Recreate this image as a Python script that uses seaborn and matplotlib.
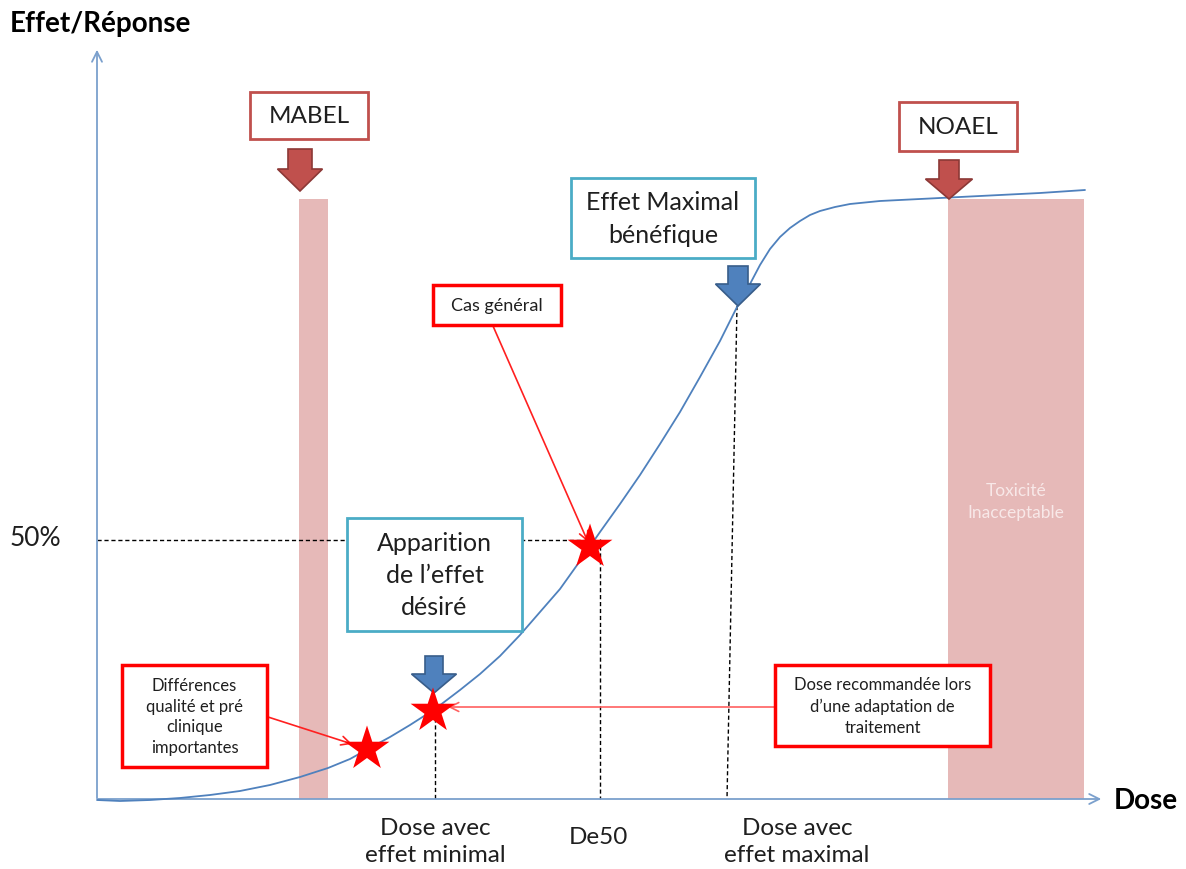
import seaborn as sns
import matplotlib.pyplot as plt
import matplotlib.patches as mpatches

# dose-response curve (pixel units, y grows downward)
curve_x = [97, 120, 150, 180, 210, 240, 270, 300, 328, 350, 368, 390, 410, 435, 460,
           480, 500, 520, 540, 560, 580, 600, 620, 640, 660, 680, 700, 720, 737, 750,
           760, 770, 780, 790, 800, 810, 820, 835, 850, 880, 920, 960, 1000, 1040, 1085]
curve_y = [801, 802, 801, 799, 796, 792, 786, 778, 769, 760, 750, 738, 726, 710, 691,
           675, 657, 636, 613, 590, 562, 533, 505, 476, 445, 413, 378, 342, 308, 285,
           266, 250, 238, 229, 222, 216, 212, 208, 205, 202, 200, 198, 196, 194, 191]

# red stars on the curve
star_x = [367, 433, 590]
star_y = [750, 712, 548]

# shaded zones (MABEL, toxicité)
zone_left = [299, 948]
zone_right = [328, 1084]
zone_top = [200, 200]

# dashed reference lines
ref_x0 = [97, 435, 600, 737]
ref_y0 = [541, 712, 540, 307]
ref_x1 = [588, 435, 600, 727]
ref_y1 = [541, 800, 800, 800]

x_labels = ["Dose avec\neffet minimal", "De50", "Dose avec\neffet maximal"]
x_label_pos = [435, 598, 797]

sns.set_theme(style="white")
plt.rcParams['font.family'] = ['Lato', 'DejaVu Sans']

fig = plt.figure(figsize=(11.86, 8.70), dpi=100)
ax = fig.add_axes([0, 0, 1, 1])

txt = '#1F1F1F'
axis_col = '#7BA0CD'

# zones
for l, r, t in zip(zone_left, zone_right, zone_top):
    ax.add_patch(mpatches.Rectangle((l, t), r - l, 800 - t, facecolor='#E6B9B8',
                                    edgecolor='none', zorder=1))
ax.text(1016, 502, "Toxicité\nInacceptable", ha='center', va='center', fontsize=12.5,
        color='#F8E8E8', linespacing=1.45, zorder=2)

# axes with arrows
ax.annotate('', xy=(97, 48), xytext=(97, 802),
            arrowprops=dict(arrowstyle='->', color=axis_col, lw=1.3, mutation_scale=18), zorder=3)
ax.annotate('', xy=(1104, 800), xytext=(95, 800),
            arrowprops=dict(arrowstyle='->', color=axis_col, lw=1.3, mutation_scale=18), zorder=3)

# dashed lines
for x0, y0, x1, y1 in zip(ref_x0, ref_y0, ref_x1, ref_y1):
    ax.plot([x0, x1], [y0, y1], color='black', lw=1, linestyle=(0, (3, 2)), zorder=2)

# curve
sns.lineplot(x=curve_x, y=curve_y, ax=ax, color='#4F81BD', lw=1.3, sort=False, zorder=4)


def box(x0, y0, x1, y1, text, edge, lw, fs, ls=1.2):
    ax.add_patch(mpatches.Rectangle((x0, y0), x1 - x0, y1 - y0, facecolor='white',
                                    edgecolor=edge, lw=lw, zorder=6))
    ax.text((x0 + x1) / 2, (y0 + y1) / 2, text, ha='center', va='center', fontsize=fs,
            color=txt, linespacing=ls, zorder=7)


def block_arrow(xc, top, neck, tip, shaft_w, head_w, face, edge):
    pts = [(xc - shaft_w / 2, top), (xc + shaft_w / 2, top), (xc + shaft_w / 2, neck),
           (xc + head_w / 2, neck), (xc, tip), (xc - head_w / 2, neck), (xc - shaft_w / 2, neck)]
    ax.add_patch(mpatches.Polygon(pts, closed=True, facecolor=face, edgecolor=edge,
                                  lw=1.2, zorder=6))


box(250, 93, 368, 140, "MABEL", '#C0504D', 2, 17.5)
box(899, 103, 1017, 152, "NOAEL", '#C0504D', 2, 17.5)
box(571, 179, 755, 259, "Effet Maximal\nbénéfique", '#4BACC6', 2, 18, 1.5)
box(347, 519, 522, 632, "Apparition\nde l\u2019effet\ndésiré", '#4BACC6', 2, 18, 1.45)
box(433, 286, 561, 326, "Cas général", '#FF0000', 2.5, 13)
box(122, 666, 267, 768, "Différences\nqualité et pré\nclinique\nimportantes", '#FF0000', 2.5, 12, 1.35)
box(775, 666, 990, 747, "Dose recommandée lors\nd\u2019une adaptation de\ntraitement", '#FF0000', 2.5, 12, 1.4)

block_arrow(300, 150, 170, 192, 24, 45, '#C0504D', '#8C3836')
block_arrow(949, 161, 180, 200, 20, 47, '#C0504D', '#8C3836')
block_arrow(738, 267, 285, 307, 20, 45, '#4F81BD', '#385D8A')
block_arrow(434, 657, 675, 694, 18, 45, '#4F81BD', '#385D8A')

# thin red pointers
for (sx, sy), (ex, ey), c in [((493, 327), (588, 543), '#FF2020'),
                              ((268, 718), (352, 745), '#FF2020'),
                              ((775, 708), (448, 708), '#FF6060')]:
    ax.annotate('', xy=(ex, ey), xytext=(sx, sy),
                arrowprops=dict(arrowstyle='->', color=c, lw=1.2, mutation_scale=16,
                                shrinkA=0, shrinkB=0), zorder=5)

# stars
sns.scatterplot(x=star_x, y=star_y, ax=ax, marker='*', s=1150, color='#FF0000',
                edgecolor='none', zorder=8)

# axis texts
ax.text(10, 24, "Effet/Réponse", fontsize=20, fontweight='bold', color='black', va='center')
ax.text(1114, 801, "Dose", fontsize=20, fontweight='bold', color='black', va='center')
ax.text(10, 539, "50%", fontsize=19, color=txt, va='center')
for lab, xp in zip(x_labels, x_label_pos):
    ax.text(xp, 838 if '\n' not in lab else 842, lab, ha='center', va='center',
            fontsize=17.5, color=txt, linespacing=1.4)

ax.set_xlim(0, 1186)
ax.set_ylim(870, 0)
ax.axis('off')

plt.savefig("out.png", dpi=100)
